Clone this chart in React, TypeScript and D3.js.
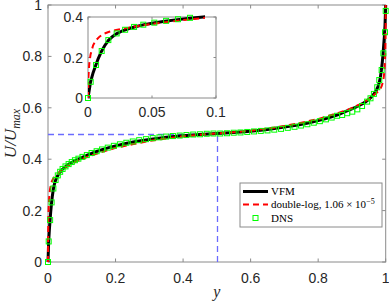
import React from 'react';
import * as d3 from 'd3';

// VFM profile (y, U)
const vfmY = [0, 0.002, 0.004, 0.006, 0.008, 0.0105, 0.013, 0.016, 0.019, 0.0225, 0.027, 0.032, 0.037, 0.043, 0.05, 0.06, 0.07, 0.08, 0.09, 0.1, 0.12, 0.14, 0.16, 0.18, 0.2, 0.23, 0.26, 0.3, 0.35, 0.4, 0.45, 0.5,
  0.55, 0.6, 0.65, 0.7, 0.74, 0.77, 0.8, 0.82, 0.84, 0.86, 0.88, 0.9, 0.91, 0.92, 0.93, 0.94, 0.95, 0.957, 0.963, 0.968, 0.973, 0.9775, 0.981, 0.984, 0.987, 0.9895, 0.992, 0.994, 0.996, 0.998, 1];
const vfmU = [0, 0.08, 0.125, 0.16, 0.195, 0.23, 0.258, 0.285, 0.303, 0.318, 0.332, 0.343, 0.352, 0.361, 0.369, 0.379, 0.387, 0.394, 0.4, 0.406, 0.418, 0.428, 0.437, 0.445, 0.452, 0.461, 0.469, 0.477, 0.485, 0.491, 0.496, 0.5,
  0.504, 0.509, 0.516, 0.525, 0.533, 0.541, 0.55, 0.557, 0.565, 0.574, 0.585, 0.596, 0.602, 0.608, 0.615, 0.623, 0.633, 0.641, 0.65, 0.659, 0.67, 0.684, 0.699, 0.717, 0.744, 0.772, 0.807, 0.842, 0.877, 0.922, 1];

// double-log profile
const dlY = [0, 0.0003, 0.001, 0.002, 0.004, 0.006, 0.009, 0.012, 0.016, 0.022, 0.03, 0.04, 0.05, 0.07, 0.09, 0.12, 0.15, 0.2, 0.25, 0.3, 0.35, 0.4, 0.45, 0.5,
  0.55, 0.6, 0.65, 0.7, 0.75, 0.8, 0.85, 0.88, 0.91, 0.93, 0.95, 0.96, 0.97, 0.978, 0.984, 0.988, 0.991, 0.994, 0.996, 0.998, 0.999, 0.9997, 1];
const dlU = [0, 0.1, 0.17, 0.215, 0.26, 0.283, 0.303, 0.316, 0.326, 0.336, 0.345, 0.356, 0.366, 0.382, 0.395, 0.411, 0.424, 0.444, 0.458, 0.471, 0.481, 0.489, 0.495, 0.5,
  0.505, 0.511, 0.519, 0.529, 0.542, 0.556, 0.576, 0.589, 0.605, 0.618, 0.634, 0.644, 0.655, 0.664, 0.674, 0.684, 0.697, 0.717, 0.74, 0.785, 0.83, 0.9, 1];

// DNS points
const dnsY = [0, 0.0021, 0.0063, 0.0107, 0.0159, 0.0224, 0.029, 0.036, 0.0432, 0.0518, 0.061, 0.0703, 0.0797, 0.09, 0.102, 0.115, 0.129, 0.144, 0.16, 0.177, 0.195, 0.213, 0.232, 0.251, 0.27, 0.29, 0.31, 0.33, 0.35, 0.37, 0.39, 0.41, 0.43, 0.45, 0.47, 0.49,
  0.51, 0.53, 0.55, 0.57, 0.59, 0.61, 0.63, 0.65, 0.67, 0.69, 0.71, 0.73, 0.749, 0.768, 0.787, 0.805, 0.823, 0.84, 0.856, 0.871, 0.886, 0.901, 0.916, 0.93, 0.945, 0.955, 0.965, 0.975, 0.981, 0.988, 0.993, 0.998, 1];
const dnsU = [0, 0.08, 0.163, 0.232, 0.286, 0.319, 0.337, 0.351, 0.362, 0.372, 0.381, 0.389, 0.396, 0.402, 0.409, 0.416, 0.424, 0.431, 0.438, 0.445, 0.452, 0.458, 0.464, 0.469, 0.474, 0.478, 0.482, 0.485, 0.488, 0.49, 0.492, 0.494, 0.496, 0.497, 0.499, 0.5,
  0.5, 0.501, 0.503, 0.504, 0.506, 0.508, 0.51, 0.512, 0.515, 0.518, 0.522, 0.526, 0.531, 0.536, 0.542, 0.548, 0.555, 0.562, 0.569, 0.572, 0.579, 0.585, 0.594, 0.607, 0.624, 0.637, 0.654, 0.68, 0.708, 0.747, 0.812, 0.894, 0.977];

const mainTicks = [0, 0.2, 0.4, 0.6, 0.8, 1];
const insetXTicks = [0, 0.05, 0.1];
const insetYTicks = [0, 0.2, 0.4];
const insetMaxY = 0.0915;

const W = 389, H = 305;
const tickFont = '"Liberation Sans", Arial, sans-serif';
const serif = '"Liberation Serif", "DejaVu Serif", serif';
const axisColor = '#8a8a8a';
const textColor = '#262626';
const guideColor = '#6b6bff';

function zip(a: number[], b: number[]) {
  return a.map((v, i) => [v, b[i]] as [number, number]);
}

export default function App() {
  const x = d3.scaleLinear().domain([0, 1]).range([48, 385.7]);
  const y = d3.scaleLinear().domain([0, 1]).range([262, 5]);
  const ix = d3.scaleLinear().domain([0, 0.1]).range([88, 216]);
  const iy = d3.scaleLinear().domain([0, 0.4]).range([98, 17]);

  const vfm = zip(vfmY, vfmU);
  const dl = zip(dlY, dlU);
  const dns = zip(dnsY, dnsU);

  const line = d3.line<[number, number]>().x(d => x(d[0])).y(d => y(d[1]));
  const iline = d3.line<[number, number]>().x(d => ix(d[0])).y(d => iy(d[1]));

  const ms = 5;
  const tl = 3.5;

  const [x0, x1] = x.range();
  const [y0, y1] = y.range();
  const [ix0, ix1] = ix.range();
  const [iy0, iy1] = iy.range();
  const gy = Math.round(y(0.5));
  const gx = Math.round(x(0.5));

  return (
    <svg width={W} height={H} style={{ position: 'absolute', left: 0, top: 0, background: '#fff' }}>
      <defs>
        <clipPath id="insetClip">
          <rect x={ix0} y={iy1 - 5} width={ix(insetMaxY) - ix0} height={iy0 - iy1 + 10} />
        </clipPath>
      </defs>
      <rect x={0} y={0} width={W} height={H} fill="#fff" />

      {/* main axes */}
      <g>
        <rect x={x0} y={y1} width={x1 - x0} height={y0 - y1} fill="#fff" stroke={axisColor} strokeWidth={1} />
        {mainTicks.map(t => (
          <g key={'x' + t}>
            <line x1={x(t)} x2={x(t)} y1={y0} y2={y0 - tl} stroke={axisColor} />
            <line x1={x(t)} x2={x(t)} y1={y1} y2={y1 + tl} stroke={axisColor} />
            <text x={x(t)} y={283} textAnchor="middle" fontFamily={tickFont} fontSize={14} fill={textColor}>{String(t)}</text>
          </g>
        ))}
        {mainTicks.map(t => (
          <g key={'y' + t}>
            <line x1={x0} x2={x0 + tl} y1={y(t)} y2={y(t)} stroke={axisColor} />
            <line x1={x1} x2={x1 - tl} y1={y(t)} y2={y(t)} stroke={axisColor} />
            <text x={42} y={y(t) + 5} textAnchor="end" fontFamily={tickFont} fontSize={14} fill={textColor}>{String(t)}</text>
          </g>
        ))}
      </g>

      {/* guide lines */}
      <line x1={x(0)} x2={gx} y1={gy + 0.5} y2={gy + 0.5} stroke={guideColor} strokeWidth={1.3} strokeDasharray="6,4" />
      <line x1={gx + 0.5} x2={gx + 0.5} y1={y(0)} y2={gy} stroke={guideColor} strokeWidth={1.3} strokeDasharray="6,4" />

      {/* main curves */}
      <path d={line(vfm) || ''} fill="none" stroke="#000" strokeWidth={3} />
      <path d={line(dl) || ''} fill="none" stroke="#ff0000" strokeWidth={2} strokeDasharray="6,4" />
      {dns.map((d, i) => (
        <rect key={'d' + i} x={x(d[0]) - ms / 2} y={y(d[1]) - ms / 2} width={ms} height={ms} fill="none" stroke="#00ff00" strokeWidth={1} />
      ))}

      {/* inset */}
      <g>
        <rect x={ix0} y={iy1} width={ix1 - ix0} height={iy0 - iy1} fill="#fff" stroke={axisColor} strokeWidth={1} />
        {insetXTicks.map(t => (
          <g key={'ix' + t}>
            <line x1={ix(t)} x2={ix(t)} y1={iy0} y2={iy0 - 2.5} stroke={axisColor} />
            <line x1={ix(t)} x2={ix(t)} y1={iy1} y2={iy1 + 2.5} stroke={axisColor} />
            <text x={ix(t)} y={117} textAnchor="middle" fontFamily={tickFont} fontSize={14} fill={textColor}>{String(t)}</text>
          </g>
        ))}
        {insetYTicks.map(t => (
          <g key={'iy' + t}>
            <line x1={ix0} x2={ix0 + 2.5} y1={iy(t)} y2={iy(t)} stroke={axisColor} />
            <line x1={ix1} x2={ix1 - 2.5} y1={iy(t)} y2={iy(t)} stroke={axisColor} />
            <text x={83} y={iy(t) + 5} textAnchor="end" fontFamily={tickFont} fontSize={14} fill={textColor}>{String(t)}</text>
          </g>
        ))}
        <g clipPath="url(#insetClip)">
          <path d={iline(vfm) || ''} fill="none" stroke="#000" strokeWidth={3} />
          <path d={iline(dl) || ''} fill="none" stroke="#ff0000" strokeWidth={2} strokeDasharray="6,4" />
        </g>
        {dns.filter(d => d[0] <= 0.085).map((d, i) => (
          <rect key={'id' + i} x={ix(d[0]) - ms / 2} y={iy(d[1]) - ms / 2} width={ms} height={ms} fill="none" stroke="#00ff00" strokeWidth={1} />
        ))}
      </g>

      {/* legend */}
      <g>
        <rect x={240} y={183} width={142} height={44} fill="#fff" stroke={axisColor} strokeWidth={1} />
        <line x1={243} x2={268} y1={191.5} y2={191.5} stroke="#000" strokeWidth={3} />
        <text x={271} y={195} fontFamily={serif} fontSize={11} fill="#000">VFM</text>
        <line x1={243} x2={268} y1={204.5} y2={204.5} stroke="#ff0000" strokeWidth={2} strokeDasharray="6,4" />
        <text x={271} y={208} fontFamily={serif} fontSize={11} fill="#000">
          double-log, 1.06 × 10<tspan dy={-4} fontSize={8}>−5</tspan>
        </text>
        <rect x={255.5 - ms / 2} y={218 - ms / 2} width={ms} height={ms} fill="none" stroke="#00ff00" strokeWidth={1} />
        <text x={271} y={221.5} fontFamily={serif} fontSize={11} fill="#000">DNS</text>
      </g>

      {/* axis labels */}
      <text x={x(0.5)} y={297} textAnchor="middle" fontFamily={serif} fontStyle="italic" fontSize={16} fill={textColor}>y</text>
      <text transform={`translate(16, ${(y0 + y1) / 2}) rotate(-90)`} textAnchor="middle" fontFamily={serif} fontStyle="italic" fontSize={17} fill={textColor}>
        U/U<tspan dy={4} fontSize={12}>max</tspan>
      </text>
    </svg>
  );
}
